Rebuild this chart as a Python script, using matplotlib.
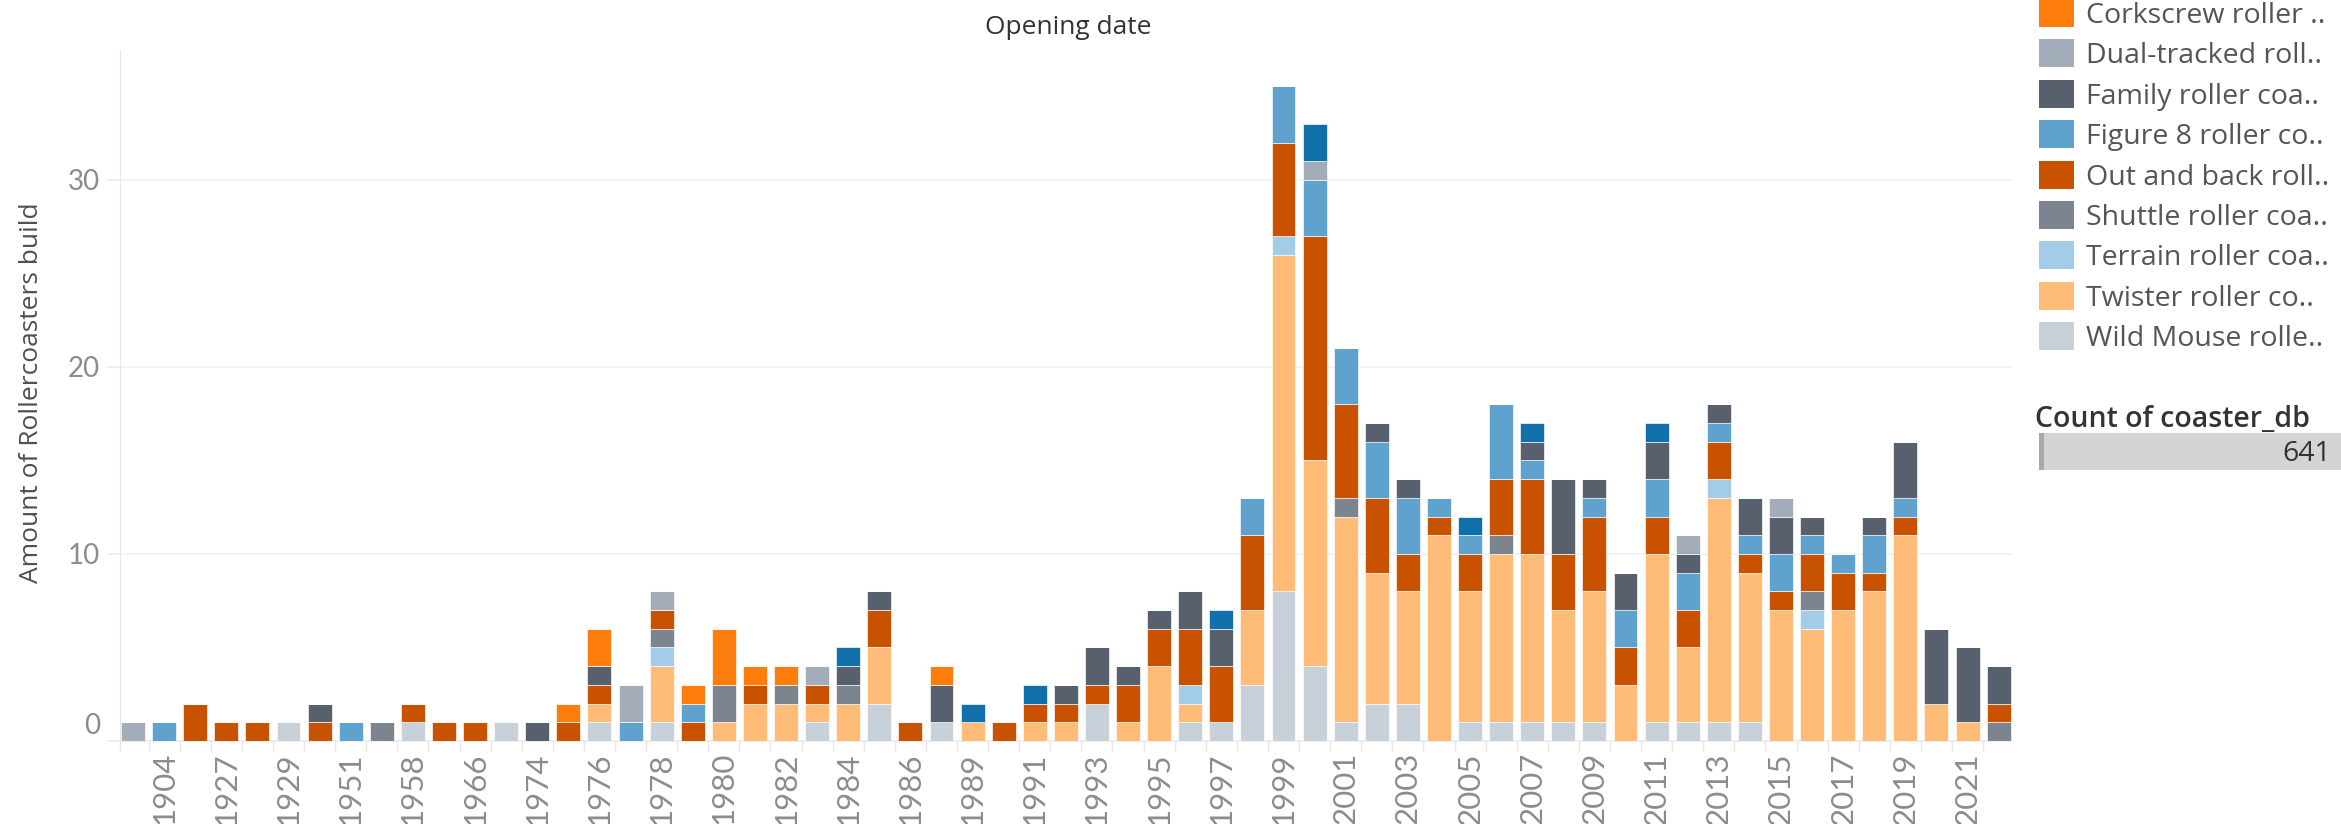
import matplotlib
matplotlib.use("Agg")
import matplotlib.pyplot as plt
from matplotlib.patches import Rectangle
from matplotlib.transforms import ScaledTranslation
import numpy as np

# ---------------- data ----------------
years = [1902, 1904, 1920, 1927, 1928, 1929, 1940, 1951, 1956, 1958,
         1963, 1966, 1972, 1974, 1975, 1976, 1977, 1978, 1979, 1980,
         1981, 1982, 1983, 1984, 1985, 1986, 1987, 1989, 1990, 1991,
         1992, 1993, 1994, 1995, 1996, 1997, 1998, 1999, 2000, 2001,
         2002, 2003, 2004, 2005, 2006, 2007, 2008, 2009, 2010, 2011,
         2012, 2013, 2014, 2015, 2016, 2017, 2018, 2019, 2020, 2021,
         2022]

categories = ["Bobsled roller coaster", "Corkscrew roller coaster",
              "Dual-tracked roller coaster", "Family roller coaster",
              "Figure 8 roller coaster", "Out and back roller coaster",
              "Shuttle roller coaster", "Terrain roller coaster",
              "Twister roller coaster", "Wild Mouse roller coaster"]
legend_labels = ["Bobsled roller co..", "Corkscrew roller ..", "Dual-tracked roll..",
                 "Family roller coa..", "Figure 8 roller co..", "Out and back roll..",
                 "Shuttle roller coa..", "Terrain roller coa..", "Twister roller co..",
                 "Wild Mouse rolle.."]
colors = ["#1170AA", "#FC7D0B", "#A3ACB9", "#57606C", "#5FA2CE",
          "#C85200", "#7B848F", "#A3CCE9", "#FFBC79", "#C8D0D9"]

wild_mouse = [0, 0, 0, 0, 0, 1, 0, 0, 0, 1,
              0, 0, 1, 0, 0, 1, 0, 1, 0, 0,
              0, 0, 1, 0, 2, 0, 1, 0, 0, 0,
              0, 2, 0, 0, 1, 1, 3, 8, 4, 1,
              2, 2, 0, 1, 1, 1, 1, 1, 0, 1,
              1, 1, 1, 0, 0, 0, 0, 0, 0, 0,
              0]
twister = [0, 0, 0, 0, 0, 0, 0, 0, 0, 0,
           0, 0, 0, 0, 0, 1, 0, 3, 0, 1,
           2, 2, 1, 2, 3, 0, 0, 1, 0, 1,
           1, 0, 1, 4, 1, 0, 4, 18, 11, 11,
           7, 6, 11, 7, 9, 9, 6, 7, 3, 9,
           4, 12, 8, 7, 6, 7, 8, 11, 2, 1,
           0]
terrain = [0, 0, 0, 0, 0, 0, 0, 0, 0, 0,
           0, 0, 0, 0, 0, 0, 0, 1, 0, 0,
           0, 0, 0, 0, 0, 0, 0, 0, 0, 0,
           0, 0, 0, 0, 1, 0, 0, 1, 0, 0,
           0, 0, 0, 0, 0, 0, 0, 0, 0, 0,
           0, 1, 0, 0, 1, 0, 0, 0, 0, 0,
           0]
shuttle = [0, 0, 0, 0, 0, 0, 0, 0, 1, 0,
           0, 0, 0, 0, 0, 0, 0, 1, 0, 2,
           0, 1, 0, 1, 0, 0, 0, 0, 0, 0,
           0, 0, 0, 0, 0, 0, 0, 0, 0, 1,
           0, 0, 0, 0, 1, 0, 0, 0, 0, 0,
           0, 0, 0, 0, 1, 0, 0, 0, 0, 0,
           1]
out_and_back = [0, 0, 2, 1, 1, 0, 1, 0, 0, 1,
                1, 1, 0, 0, 1, 1, 0, 1, 1, 0,
                1, 0, 1, 0, 2, 1, 0, 0, 1, 1,
                1, 1, 2, 2, 3, 3, 4, 5, 12, 5,
                4, 2, 1, 2, 3, 4, 3, 4, 2, 2,
                2, 2, 1, 1, 2, 2, 1, 1, 0, 0,
                1]
figure_8 = [0, 1, 0, 0, 0, 0, 0, 1, 0, 0,
            0, 0, 0, 0, 0, 0, 1, 0, 1, 0,
            0, 0, 0, 0, 0, 0, 0, 0, 0, 0,
            0, 0, 0, 0, 0, 0, 2, 3, 3, 3,
            3, 3, 1, 1, 4, 1, 0, 1, 2, 2,
            2, 1, 1, 2, 1, 1, 2, 1, 0, 0,
            0]
family = [0, 0, 0, 0, 0, 0, 1, 0, 0, 0,
          0, 0, 0, 1, 0, 1, 0, 0, 0, 0,
          0, 0, 0, 1, 1, 0, 2, 0, 0, 0,
          1, 2, 1, 1, 2, 2, 0, 0, 0, 0,
          1, 1, 0, 0, 0, 1, 4, 1, 2, 2,
          1, 1, 2, 2, 1, 0, 1, 3, 4, 4,
          2]
dual_tracked = [1, 0, 0, 0, 0, 0, 0, 0, 0, 0,
                0, 0, 0, 0, 0, 0, 2, 1, 0, 0,
                0, 0, 1, 0, 0, 0, 0, 0, 0, 0,
                0, 0, 0, 0, 0, 0, 0, 0, 1, 0,
                0, 0, 0, 0, 0, 0, 0, 0, 0, 0,
                1, 0, 0, 1, 0, 0, 0, 0, 0, 0,
                0]
corkscrew = [0, 0, 0, 0, 0, 0, 0, 0, 0, 0,
             0, 0, 0, 0, 1, 2, 0, 0, 1, 3,
             1, 1, 0, 0, 0, 0, 1, 0, 0, 0,
             0, 0, 0, 0, 0, 0, 0, 0, 0, 0,
             0, 0, 0, 0, 0, 0, 0, 0, 0, 0,
             0, 0, 0, 0, 0, 0, 0, 0, 0, 0,
             0]
bobsled = [0, 0, 0, 0, 0, 0, 0, 0, 0, 0,
           0, 0, 0, 0, 0, 0, 0, 0, 0, 0,
           0, 0, 0, 1, 0, 0, 0, 1, 0, 1,
           0, 0, 0, 0, 0, 1, 0, 0, 2, 0,
           0, 0, 0, 1, 0, 1, 0, 0, 0, 1,
           0, 0, 0, 0, 0, 0, 0, 0, 0, 0,
           0]

series_by_category = [bobsled, corkscrew, dual_tracked, family, figure_8,
                      out_and_back, shuttle, terrain, twister, wild_mouse]
count_total = 641

# ---------------- figure ----------------
W, H = 2341, 824
fig = plt.figure(figsize=(W / 100, H / 100), dpi=100)
fig.patch.set_facecolor("white")


def fx(px):
    return px / W


def fy(py):
    return 1 - py / H


ax = fig.add_axes([fx(120), fy(741), fx(2012) - fx(120), fy(50) - fy(741)])

x = np.arange(len(years))
bottom = np.zeros(len(years))
# Tableau stacks in reverse legend order (last legend item at the bottom)
for idx in reversed(range(len(categories))):
    vals = np.array(series_by_category[idx], dtype=float)
    ax.bar(x, vals, bottom=bottom, width=0.77, color=colors[idx],
           edgecolor="white", linewidth=0.45, label=categories[idx], zorder=3)
    bottom += vals

ax.set_xlim(-0.42, 60.43)
ax.set_ylim(0, 36.95)

# grid / spines
ax.yaxis.grid(True, color="#efefef", linewidth=1.1, zorder=0)
ax.xaxis.grid(False)
ax.set_axisbelow(True)
for s in ["top", "right"]:
    ax.spines[s].set_visible(False)
ax.spines["left"].set_color("#e6e6e6")
ax.spines["left"].set_linewidth(0.8)
ax.spines["bottom"].set_color("#ebebeb")
ax.spines["bottom"].set_linewidth(1.1)

# x ticks: label every other year, separators between every bar
ax.set_xticks(x[1::2], labels=[str(y) for y in years[1::2]])
ax.set_xticks(list(np.arange(0.5, len(years) - 1, 1.0)) + [-0.42], minor=True)
ax.tick_params(axis="x", which="major", length=0, pad=8.0, labelrotation=90,
               labelsize=22.5, labelcolor="#8c8c8c")
ax.tick_params(axis="x", which="minor", length=7.5, color="#e6e6e6", width=1.0)

# y ticks
ax.set_yticks([0, 10, 20, 30], labels=["0", "10", "20", "30"])
ax.tick_params(axis="y", which="major", length=9.4, color="#ebebeb", width=1.1,
               pad=5, labelsize=20, labelcolor="#8c8c8c")

for lab in ax.get_xticklabels() + ax.get_yticklabels():
    lab.set_fontfamily("Lato")
    lab.set_fontweight("normal")

# Tableau lifts the "0" label above the baseline
zero_lab = ax.get_yticklabels()[0]
zero_lab.set_transform(zero_lab.get_transform()
                       + ScaledTranslation(0, 18 / 100, fig.dpi_scale_trans))

# titles
fig.text(fx(1068), fy(27), "Opening date", ha="center", va="center",
         fontsize=19, color="#333333", family="Open Sans")
fig.text(fx(32), fy(393), "Amount of Rollercoasters build", rotation=90,
         ha="center", va="center", fontsize=19, color="#505050", family="Open Sans")

# legend (scrolled: first entry above the visible area)
for i, (lab, col) in enumerate(zip(legend_labels, colors)):
    yc = 13 + (i - 1) * 40.4
    fig.add_artist(Rectangle((fx(2039), fy(yc + 14)), fx(35), 28 / H,
                             facecolor=col, edgecolor="none",
                             transform=fig.transFigure))
    fig.text(fx(2086), fy(yc + 10), lab, ha="left", va="baseline", fontsize=20.5,
             color="#555555", family="Open Sans")

# count box
fig.text(fx(2035), fy(427), "Count of coaster_db", ha="left", va="baseline",
         fontsize=20.5, color="#333333", family="Open Sans", weight="semibold")
fig.add_artist(Rectangle((fx(2039), fy(470)), fx(W - 2039), 37 / H,
                         facecolor="#d4d4d4", edgecolor="none",
                         transform=fig.transFigure))
fig.add_artist(Rectangle((fx(2039), fy(470)), fx(5), 37 / H,
                         facecolor="#a9a9a9", edgecolor="none",
                         transform=fig.transFigure))
fig.text(fx(2331), fy(461), str(count_total), ha="right", va="baseline",
         fontsize=20.5, color="#333333", family="Open Sans")

fig.savefig("out.png", dpi=100, facecolor="white")
